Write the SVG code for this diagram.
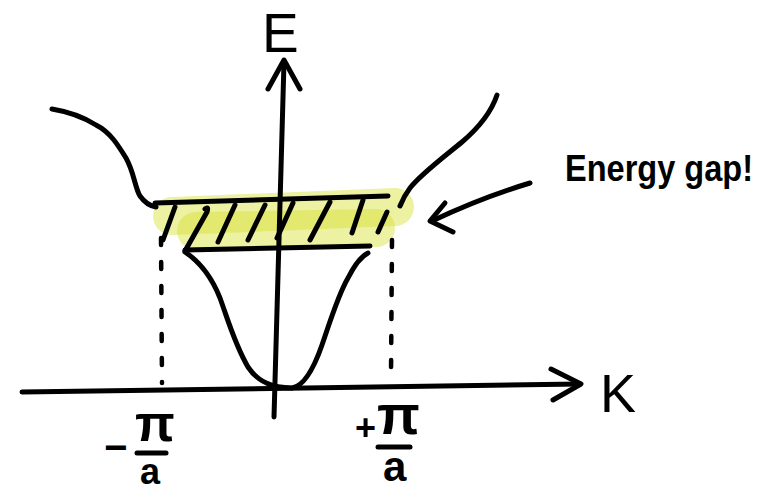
<svg xmlns="http://www.w3.org/2000/svg" width="775" height="494" viewBox="0 0 775 494">
<style>
.ink{fill:none;stroke:#000;stroke-width:5;stroke-linecap:round;stroke-linejoin:round}
.dash{fill:none;stroke:#000;stroke-width:4.5;stroke-linecap:round;stroke-dasharray:7 17}
.hl{fill:none;stroke:#d8e030;stroke-opacity:0.45;stroke-width:38;stroke-linecap:round}
.lbl{font-family:"Liberation Sans",Arial,sans-serif;fill:#000}
</style>
<rect width="775" height="494" fill="#fff"/>
<g id="highlight">
<path class="hl" d="M172,216 L395,207"/>
<path class="hl" d="M196,231 L376,228"/>
</g>
<g id="bands">
<path class="ink" d="M52,109 C70,112 85,118 96,125 C110,132 118,145 126,158 C134,172 135,188 140,196 C145,203 150,206 156,207"/>
<path class="ink" d="M497,95 C492,110 482,125 462,142 C440,160 420,175 410,188 C404,196 402,201 400,206"/>
<path class="ink" d="M185,252 C200,262 212,278 220,298 C228,320 235,345 248,367 C258,382 272,388 292,388 C305,386 315,365 322,345 C330,322 338,295 348,278 C355,264 362,256 368,253"/>
</g>
<g id="gap">
<path class="ink" d="M155,203 L388,196"/>
<path class="ink" d="M185,250 L370,246"/>
<path class="ink" d="M175,207 L163,240 M205,209 Q209,206 207,212 L185,251 M235,205 L218,242 M265,205 L248,240 M293,203 L277,238 M330,202 L310,240 M363,200 L352,233 M387,212 L378,232"/>
</g>
<g id="connectors">
<path class="ink" d="M274,417 L284,62"/>
<path class="ink" d="M268,89 L284,60 L300,89"/>
<path class="ink" d="M22,392 L580,384"/>
<path class="ink" d="M551,369 L581,384 L553,400"/>
<path class="dash" d="M161,238 L162,383"/>
<path class="dash" d="M392,240 L391,376"/>
<path class="ink" d="M530,183 C500,192 470,203 432,221"/>
<path class="ink" d="M445,203 L430,221 L453,232"/>
</g>
<g id="labels">
<text class="lbl" x="262" y="52" font-size="55">E</text>
<text class="lbl" x="600" y="412" font-size="54">K</text>
<text class="lbl" x="565" y="181" font-size="36" font-weight="bold" textLength="188" lengthAdjust="spacingAndGlyphs">Energy gap!</text>
<text class="lbl" x="104" y="461" font-size="40" font-weight="bold">−</text>
<text class="lbl" x="135" y="441" font-size="52" font-weight="bold">π</text>
<path class="ink" d="M137,453 L166,453"/>
<text class="lbl" x="140" y="484" font-size="36" font-weight="bold">a</text>
<text class="lbl" x="355" y="440" font-size="36" font-weight="bold">+</text>
<text class="lbl" x="377" y="434" font-size="56" font-weight="bold">π</text>
<path class="ink" d="M378,447 L410,447"/>
<text class="lbl" x="383" y="481" font-size="42" font-weight="bold">a</text>
</g>
</svg>
